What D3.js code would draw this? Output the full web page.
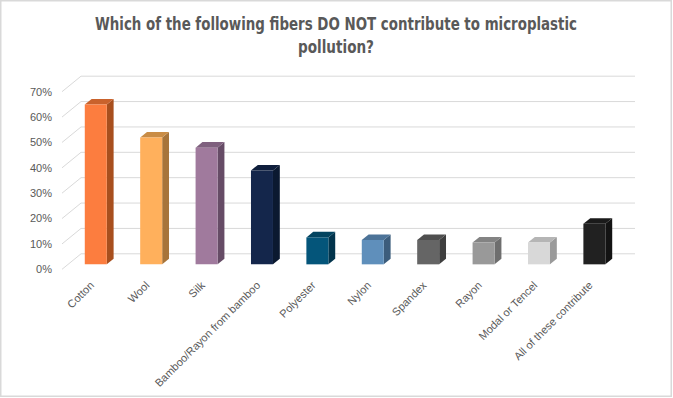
<!DOCTYPE html>
<html>
<head>
<meta charset="utf-8">
<script src="https://cdn.jsdelivr.net/npm/d3@7"></script>
<style>
  html, body { margin: 0; padding: 0; background: #ffffff; }
  svg { display: block; }
</style>
</head>
<body>
<svg id="chart" width="673" height="398"></svg>
<script>
const categories = ["Cotton", "Wool", "Silk", "Bamboo/Rayon from bamboo", "Polyester", "Nylon", "Spandex", "Rayon", "Modal or Tencel", "All of these contribute"];
const values = [0.63, 0.50, 0.46, 0.37, 0.106, 0.096, 0.096, 0.086, 0.086, 0.16];
const frontColors = ["#FC7D3F", "#FFB05C", "#A07A9D", "#14264B", "#04557A", "#5F8FBB", "#656565", "#999999", "#D8D8D8", "#212121"];
const sideColors  = ["#A84F1E", "#A7743A", "#664C66", "#0B1930", "#02344C", "#3C5D7C", "#3F3F3F", "#6E6E6E", "#9A9A9A", "#131313"];
const topColors   = ["#C9622C", "#C98C45", "#7F607E", "#0F1E3C", "#034460", "#4C7398", "#4F4F4F", "#838383", "#B5B5B5", "#1A1A1A"];
const yTicks = [0, 0.1, 0.2, 0.3, 0.4, 0.5, 0.6, 0.7];
const titleLines = ["Which of the following fibers DO NOT contribute to microplastic", "pollution?"];

const svg = d3.select("#chart");
const W = 673, H = 398;

// oblique 3D projection: depth d in [0,1]
const depthDX = 19, depthDY = 15.5;
const y = d3.scaleLinear().domain([0, 0.7]).range([269.3, 91.7]);
const x = d3.scaleBand().domain(categories).range([62, 616]).paddingInner(0.603).paddingOuter(0.3015);
const proj = (px, v, d) => [px + depthDX * d, y(v) - depthDY * d];

// border
svg.append("rect").attr("x", 0.75).attr("y", 0.75).attr("width", W - 2.5).attr("height", H - 2.5)
  .attr("fill", "#fff").attr("stroke", "#d9d9d9").attr("stroke-width", 1.5);

// title
const title = svg.append("text").attr("text-anchor", "middle")
  .attr("font-family", "'Liberation Sans Narrow', 'DejaVu Sans Condensed', 'Roboto', sans-serif")
  .attr("font-weight", "bold").attr("font-size", 17).attr("fill", "#595959");
title.append("tspan").attr("x", 336).attr("y", 30)
  .attr("textLength", 482).attr("lengthAdjust", "spacingAndGlyphs").text(titleLines[0]);
title.append("tspan").attr("x", 336).attr("y", 53)
  .attr("textLength", 76).attr("lengthAdjust", "spacingAndGlyphs").text(titleLines[1]);

// gridlines: back wall + left wall diagonals
const xLeft = x.range()[0], xRight = x.range()[1];
const grid = svg.append("g").attr("stroke", "#d9d9d9").attr("stroke-width", 1).attr("fill", "none");
yTicks.forEach(t => {
  const a = proj(xLeft, t, 0), b = proj(xLeft, t, 1), c = proj(xRight, t, 1);
  grid.append("path").attr("d", `M${a[0]},${a[1]}L${b[0]},${b[1]}L${c[0]},${c[1]}`);
});

// y labels
const fmt = d3.format(".0%");
svg.append("g").selectAll("text").data(yTicks).join("text")
  .attr("x", 52).attr("y", d => y(d)).attr("dy", "0.35em").attr("text-anchor", "end")
  .attr("font-family", "'Liberation Sans', Arial, sans-serif").attr("font-size", 11).attr("fill", "#595959")
  .text(d => fmt(d));

// bars
const d0 = 0.32, d1 = 0.68;
const bars = svg.append("g");
categories.forEach((c, i) => {
  const v = values[i];
  const xl = x(c), xr = x(c) + x.bandwidth();
  const g = bars.append("g");
  const pts = arr => arr.map(p => p.join(",")).join(" ");
  const fTL = proj(xl, v, d0), fTR = proj(xr, v, d0), fBR = proj(xr, 0, d0), fBL = proj(xl, 0, d0);
  const bTL = proj(xl, v, d1), bTR = proj(xr, v, d1), bBR = proj(xr, 0, d1);
  g.append("polygon").attr("points", pts([fTR, bTR, bBR, fBR])).attr("fill", sideColors[i]);
  g.append("polygon").attr("points", pts([fTL, bTL, bTR, fTR])).attr("fill", topColors[i]);
  g.append("polygon").attr("points", pts([fTL, fTR, fBR, fBL])).attr("fill", frontColors[i]);
});

// x labels
svg.append("g").selectAll("text").data(categories).join("text")
  .attr("transform", d => {
    const cx = x(d) + x.bandwidth() / 2 + depthDX * d0;
    return `translate(${cx - 1},${286}) rotate(-45)`;
  })
  .attr("text-anchor", "end")
  .attr("font-family", "'Liberation Sans', Arial, sans-serif").attr("font-size", 11).attr("fill", "#595959")
  .text(d => d);
</script>
</body>
</html>
